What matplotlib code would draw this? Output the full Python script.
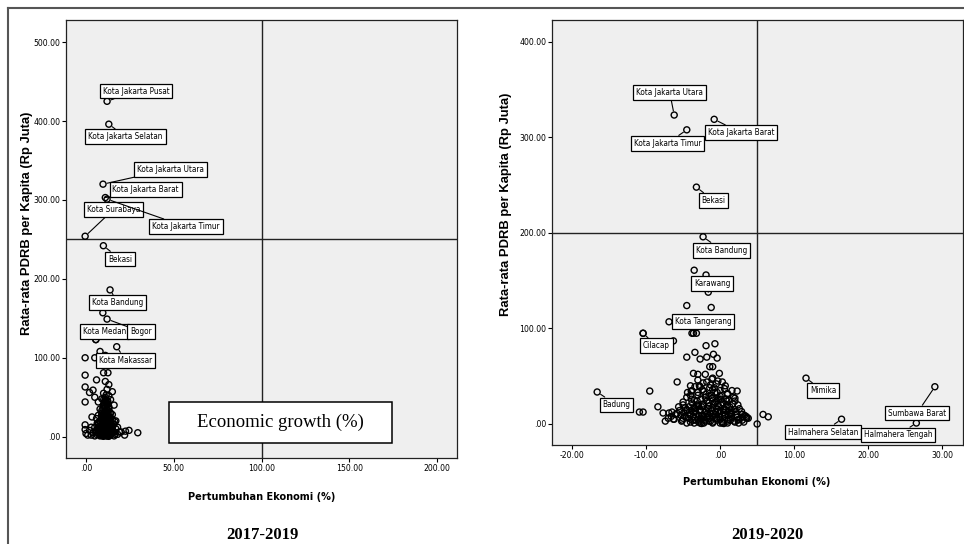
import os
import matplotlib.pyplot as plt
import matplotlib.patheffects as pe
from matplotlib.lines import Line2D
from matplotlib.patches import Rectangle
from matplotlib import font_manager as fm
from matplotlib.font_manager import FontProperties

# look for a narrow sans face (SPSS output uses Arial Narrow-like text)
_files = {os.path.basename(f.fname).lower(): f.fname for f in fm.fontManager.ttflist}


def find_face(cands):
    for c in cands:
        if c.lower() in _files:
            return _files[c.lower()]
    return None


reg_file = find_face(['LiberationSansNarrow-Regular.ttf', 'DejaVuSansCondensed.ttf',
                      'RobotoCondensed-Regular.ttf', 'NotoSans-Condensed.ttf',
                      'OpenSans-CondensedRegular.ttf', 'OpenSans_Condensed-Regular.ttf',
                      'NotoSans-SemiCondensed.ttf'])
bold_file = find_face(['LiberationSansNarrow-Bold.ttf', 'DejaVuSansCondensed-Bold.ttf',
                       'RobotoCondensed-Bold.ttf', 'NotoSans-CondensedBold.ttf',
                       'OpenSans-CondensedBold.ttf', 'OpenSans_Condensed-Bold.ttf',
                       'NotoSans-SemiCondensedBold.ttf'])


def narrow(size):
    if reg_file:
        return FontProperties(fname=reg_file, size=size)
    return FontProperties(family=['Liberation Sans', 'DejaVu Sans'], size=size * 0.85)


def narrow_bold(size):
    # returns font properties and path effects (faux bold if no bold narrow face)
    if bold_file:
        return FontProperties(fname=bold_file, size=size), []
    if reg_file:
        return (FontProperties(fname=reg_file, size=size),
                [pe.withStroke(linewidth=0.9, foreground='black')])
    return FontProperties(family=['Liberation Sans', 'DejaVu Sans'], size=size * 0.8,
                          weight='bold'), []


SANS = ['Liberation Sans', 'DejaVu Sans']
SERIF = ['Liberation Serif', 'DejaVu Serif']

# ---- 2017-2019: unlabelled districts (growth %, PDRB per capita)
x17 = [-0.5, 5, 8, 11, -0.5, 6, 10, 12.5, 11, 13, -0.5, 4, 2, 5, -0.5, 15, 16, 12, 10, 13,
       9, 11, 14, 7, 12, 10, 8, 13, 11, 9, 12, 14, 7, 10, 13, 6, 11, 15, 8, 12,
       10, 14, 9, 16, 7, 11, 13, 5, 10, 12, 15, 8, 17, 9, 11, 14, 6, 13, 10, 12,
       8, 16, 4, 9, 11, 15, 7, 13, 10, 12, 6, 14, 9, 11, 3, 8, 16, 12, 10, 13,
       5, 18, 19, 20, 22, 22.5, 24.5, 29.5, -0.5, -0.5, 0, 1, 2, 3, 18, 17, 15, 11,
       12, 9, 10, 13, 12, 11, 9, 10, 11, 12, 13, 14, 8, 10, 12, 11, 3.4, 9.6, 5.6, 7,
       10.5, 11.5, 12.5, 9.5, 13.5, 10.8, 11.8, 9.8, 12.8, 10.2]
y17 = [100, 100, 108, 103, 78, 72, 81, 81, 70, 66, 63, 59, 56, 50, 44, 57, 40, 60, 55, 52,
       48, 45, 47, 44, 40, 38, 35, 35, 32, 30, 28, 30, 27, 25, 24, 23, 22, 22, 20, 19,
       18, 17, 16, 16, 15, 14, 13, 12, 12, 11, 11, 10, 10, 9, 9, 8, 8, 7, 7, 6,
       6, 6, 5, 5, 5, 4, 4, 4, 3, 3, 3, 2, 2, 2, 2, 1, 1, 1, 0.5, 0.5,
       1, 3, 6, 6, 2, 7, 8, 5, 15, 9, 4, 2, 8, 12, 12, 20, 28, 37,
       42, 22, 27, 17, 14, 19, 12, 10, 7, 9, 10, 12, 13, 15, 16, 11, 25, 157, 123, 18,
       21, 26, 33, 3, 6, 4, 1, 8, 2, 14]
x17b = [10.3, 11.3, 12.3, 9.3, 13.3, 8.3, 14.3, 10.7, 11.7, 12.7,
        9.7, 13.7, 7.7, 10.1, 11.1, 12.1, 9.1, 13.1, 8.6, 14.6,
        10.9, 11.9, 12.9, 9.9, 7.3, 15.6, 6.4, 16.4, 10.4, 11.4,
        12.4, 9.4, 13.4, 8.4, 11.6, 10.6, 12.6, 9.2, 13.8, 11.2,
        10.0, 12.0, 11.0, 9.0, 13.0, 14.0, 8.0, 15.0, 7.0, 16.5,
        6.0, 12.2, 10.8, 11.5, 9.6, 13.6, 14.4, 8.8, 10.2, 12.4]
y17b = [2, 4, 6, 8, 10, 3, 5, 12, 14, 16,
        18, 20, 7, 22, 24, 26, 28, 30, 9, 11,
        32, 34, 36, 40, 13, 15, 17, 19, 43, 47,
        45, 1, 2, 3, 5, 9, 21, 23, 25, 27,
        29, 31, 50, 33, 38, 4, 2, 7, 9, 3,
        6, 44, 41, 53, 36, 21, 13, 26, 48, 17]

# labelled districts 2017-2019
names17 = ['Kota Jakarta Pusat', 'Kota Jakarta Selatan', 'Kota Jakarta Utara',
           'Kota Jakarta Barat', 'Kota Surabaya', 'Kota Jakarta Timur', 'Bekasi',
           'Kota Bandung', 'Kota Medan', 'Bogor', 'Kota Makassar']
nx17 = [12, 13, 9.7, 11, -0.5, 12, 9.9, 13.7, 5.6, 12, 17.5]
ny17 = [425, 396, 320, 303, 254, 301, 242, 186, 123, 149, 114]
box17 = [(28.5, 438), (22.5, 380), (48, 339), (34, 313), (15.7, 288), (57, 266),
         (19.4, 225), (18.2, 170), (10.8, 133), (31.3, 133), (22.5, 97)]

xticks17 = [0, 50, 100, 150, 200]
xlabels17 = ['.00', '50.00', '100.00', '150.00', '200.00']
yticks17 = [0, 100, 200, 300, 400, 500]
ylabels17 = ['.00', '100.00', '200.00', '300.00', '400.00', '500.00']

# ---- 2019-2020: unlabelled districts
x20 = [-5, -4.5, -4, -3.5, -3, -2.5, -2, -1.5, -1, -0.5, 0, 0.5, 1, 1.5, 2, 2.5, 3, -3, -2, -1,
       0, 1, 2, 3, -4, -5, -6, -5.5, -4.5, -3.8, -2.8, -1.8, -0.8, 0.2, 1.2, 1.8, -2.2, -1.2, -0.2, 0.8,
       -3.2, -2.6, -1.6, -0.6, 0.4, 1.6, 2.4, -4.2, -3.6, -2.4, -1.4, -0.4, 0.6, 1.4, 2.8, 3.2, -5.2, -4.8, -3.4, -2.2,
       -1.2, -0.2, 0.8, -1.8, -2.8, -3.8, -1, -2, -0.5, 0, -3, -4, 1, 2, 2.2, -6.2, -5.6, -6.6, -7, 3.5,
       3.8, 1, -1, -2.5, 0.5, -3.5, 2.5, -4.5, -1.7, -2.3, -0.3, 0.3, -1.1, -0.7, -2.9, -3.3, 1.3, 0.7, -1.5, -2.7,
       -3.5, -1.9, -4.5, -1.2, -3.8, -3.2, -6.3, -4.5, -3.4, -2.7, -1.9, -0.7, -0.9, -0.4, -1.8, -3.6, -3.0, -1.4, -1.0, -0.1,
       0.3, -1.1, -3.9, -2.7, -9.5, -10.9, -10.4, -8.4, -7.7, -7.4, -6.3, -5.8, -6.9, -6.5, 5.0, 5.8, 6.5, 2.3, 3.6, 3.6,
       -6.9, -10.4, -1.5, -0.5, 0.5, -2.5, 1.5, -3.5, -1.0, 0.0]
y20 = [20, 15, 10, 25, 30, 18, 12, 22, 8, 16, 5, 12, 20, 8, 15, 5, 10, 5, 3, 2,
       1, 3, 2, 4, 2, 6, 10, 14, 28, 35, 40, 44, 38, 30, 25, 28, 34, 30, 26, 18,
       20, 26, 16, 10, 22, 14, 20, 18, 12, 8, 6, 4, 8, 4, 6, 2, 3, 8, 4, 1,
       14, 18, 26, 24, 14, 22, 48, 52, 42, 35, 46, 40, 32, 24, 10, 5, 18, 8, 6, 8,
       6, 1, 1, 0.5, 0.5, 1, 1, 1, 11, 19, 21, 9, 27, 33, 9, 16, 11, 15, 3, 4,
       161, 156, 124, 122, 95, 95, 87, 70, 75, 68, 82, 84, 73, 69, 70, 53, 52, 60, 60, 53,
       44, 47, 34.5, 39, 34.5, 12.5, 12.5, 18, 11.5, 3, 5, 44, 11.5, 12.5, 0, 10, 7.5, 34.5, 6, 7,
       107, 95, 29, 24, 16, 5, 11, 17, 36, 13]
x20b = [-2.9, -2.1, -1.3, -0.5, 0.3, 1.1, 1.9, -3.7, -4.3, -5.1,
        -2.5, -1.7, -0.9, -0.1, 0.7, 1.5, 2.3, -3.3, -4.1, -4.9,
        -2.7, -1.9, -1.1, -0.3, 0.5, 1.3, 2.1, -3.5, -4.5, -5.3,
        -2.3, -1.5, -0.7, 0.1, 0.9, 1.7, 2.6, -3.1, -3.9, -4.7,
        -2.0, -1.0, 0.0, 1.0, -3.0, -4.0, 2.0, -5.0, -2.4, -1.4,
        -0.4, 0.6, -3.4, 1.6, -4.4, 2.9, -5.8, 3.3, -2.6, -1.6,
        -0.6, 0.4, -3.6, 1.4, -4.6, 2.4, -1.9, -0.9, 0.1, -2.9,
        1.1, -3.9, -1.3, -0.3, -2.3, 0.7, -1.7, -0.7, -2.7, 0.3]
y20b = [2, 4, 3, 6, 2, 5, 3, 4, 6, 4,
        9, 7, 11, 8, 10, 12, 7, 13, 10, 12,
        15, 14, 17, 13, 16, 18, 13, 17, 14, 9,
        21, 19, 23, 20, 24, 21, 16, 24, 26, 17,
        28, 27, 29, 31, 33, 30, 27, 23, 36, 38,
        33, 37, 39, 35, 33, 13, 11, 9, 6, 9,
        13, 15, 8, 10, 7, 4, 31, 21, 26, 19,
        9, 14, 41, 45, 43, 40, 11, 7, 1, 1]

names20 = ['Kota Jakarta Utara', 'Kota Jakarta Barat', 'Kota Jakarta Timur', 'Bekasi',
           'Kota Bandung', 'Karawang', 'Kota Tangerang', 'Cilacap', 'Badung', 'Mimika',
           'Halmahera Selatan', 'Sumbawa Barat', 'Halmahera Tengah']
nx20 = [-6.2, -0.8, -4.5, -3.2, -2.3, -1.6, -3.6, -10.4, -16.6, 11.6, 16.4, 29, 26.5]
ny20 = [323.5, 319, 308, 248, 196, 138, 95, 95, 33.5, 48, 5, 39, 1]
box20 = [(-6.8, 347), (2.8, 305), (-7.1, 294), (-0.9, 234), (0.2, 182), (-1.1, 147),
         (-2.3, 107), (-8.6, 82), (-14, 20), (13.9, 35), (13.9, -8.4), (26.6, 11.5),
         (24, -11.5)]

xticks20 = [-20, -10, 0, 10, 20, 30]
xlabels20 = ['-20.00', '-10.00', '.00', '10.00', '20.00', '30.00']
yticks20 = [0, 100, 200, 300, 400]
ylabels20 = ['.00', '100.00', '200.00', '300.00', '400.00']

W, H = 964, 544
fig = plt.figure(figsize=(W / 100, H / 100), dpi=100)


def px_axes(l, t, r, b):
    return fig.add_axes([l / W, 1 - b / H, (r - l) / W, (b - t) / H])


def panel(ax, xs, ys, names, nx, ny, boxes, vline, hline,
          xt, xl, yt, yl, xlim, ylim):
    ax.set_facecolor('#efefef')
    ax.axvline(vline, color='#222222', lw=1.0, zorder=1)
    ax.axhline(hline, color='#222222', lw=1.0, zorder=1)
    ax.scatter(xs + nx, ys + ny, s=19, facecolors='none', edgecolors='black',
               linewidths=1.0, zorder=2)
    for name, px, py, (bx, by) in zip(names, nx, ny, boxes):
        ax.annotate(name, xy=(px, py), xytext=(bx, by), ha='center', va='center',
                    fontproperties=narrow(5.9), zorder=4,
                    bbox=dict(boxstyle='square,pad=0.35', fc='white', ec='black', lw=0.9),
                    arrowprops=dict(arrowstyle='-', color='black', lw=0.8,
                                    shrinkA=0, shrinkB=3))
    ax.set_xlim(*xlim)
    ax.set_ylim(*ylim)
    ax.set_xticks(xt)
    ax.set_xticklabels(xl, fontproperties=narrow(6.2))
    ax.set_yticks(yt)
    ax.set_yticklabels(yl, fontproperties=narrow(6.2))
    ax.tick_params(length=3, width=0.8, pad=1.2)
    for sp in ax.spines.values():
        sp.set_linewidth(0.9)
        sp.set_color('#222222')


ax1 = px_axes(66, 20, 457, 458)
panel(ax1, x17 + x17b, y17 + y17b, names17, nx17, ny17, box17, 100, 250,
      xticks17, xlabels17, yticks17, ylabels17, (-11.4, 211.4), (-27, 528))

ax2 = px_axes(552, 20, 963, 445)
panel(ax2, x20 + x20b, y20 + y20b, names20, nx20, ny20, box20, 5, 200,
      xticks20, xlabels20, yticks20, ylabels20, (-22.7, 32.8), (-22, 423))

# axis titles
xl_fp, xl_fx = narrow_bold(7.8)
fig.text(262 / W, 1 - 497 / H, 'Pertumbuhan Ekonomi (%)', ha='center', va='center',
         fontproperties=xl_fp, path_effects=xl_fx)
fig.text(757 / W, 1 - 482 / H, 'Pertumbuhan Ekonomi (%)', ha='center', va='center',
         fontproperties=xl_fp, path_effects=xl_fx)
fig.text(27 / W, 1 - 223 / H, 'Rata-rata PDRB per Kapita (Rp Juta)', rotation=90,
         ha='center', va='center', family=SANS, fontweight='bold', fontsize=9.4)
fig.text(506 / W, 1 - 204 / H, 'Rata-rata PDRB per Kapita (Rp Juta)', rotation=90,
         ha='center', va='center', family=SANS, fontweight='bold', fontsize=9.4)

# overlay caption box on left panel
fig.add_artist(Rectangle((169 / W, 1 - 443 / H), 223 / W, 41 / H, transform=fig.transFigure,
                         fc='white', ec='black', lw=1.1, zorder=5))
fig.text(280.5 / W, 1 - 422.5 / H, 'Economic growth (%)', ha='center', va='center',
         family=SERIF, fontsize=13.5, zorder=6)

# panel periods
fig.text(262 / W, 1 - 535 / H, '2017-2019', ha='center', va='center',
         family=SERIF, fontweight='bold', fontsize=12)
fig.text(767 / W, 1 - 535 / H, '2019-2020', ha='center', va='center',
         family=SERIF, fontweight='bold', fontsize=12)

# outer frame of the screenshot
fig.add_artist(Line2D([8 / W, 1], [1 - 8 / H, 1 - 8 / H], color='#555555', lw=1.5))
fig.add_artist(Line2D([8 / W, 8 / W], [0, 1 - 8 / H], color='#555555', lw=1.5))

fig.savefig('out.png', dpi=100)
